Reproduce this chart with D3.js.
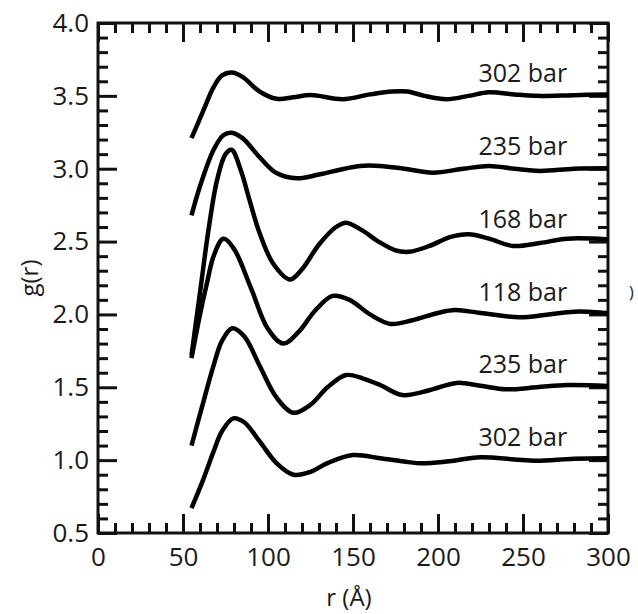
<!DOCTYPE html>
<html><head><meta charset="utf-8">
<script src="https://cdn.jsdelivr.net/npm/d3@7"></script>
<style>
html,body{margin:0;padding:0;background:#fff;}
svg text{font-family:"Open Sans","Noto Sans",sans-serif;fill:#1a1a1a;}
</style></head>
<body><svg id="chart" width="638" height="614"></svg>
<script>
// ---- data ----
const xTicks = [0, 50, 100, 150, 200, 250, 300];
const yTicks = [0.5, 1.0, 1.5, 2.0, 2.5, 3.0, 3.5, 4.0];
const seriesLabels = ["302 bar", "235 bar", "168 bar", "118 bar", "235 bar", "302 bar"];
const seriesOffsets = [3.5, 3.0, 2.5, 2.0, 1.5, 1.0];

const r_302_top = [55, 62, 68, 73, 78.6, 85, 95, 105, 115, 125, 144, 160, 173, 182, 192, 205, 218, 230, 245, 258, 280, 300];
const g_302_top = [3.21, 3.40, 3.56, 3.64, 3.66, 3.63, 3.53, 3.48, 3.49, 3.506, 3.477, 3.51, 3.53, 3.53, 3.50, 3.477, 3.50, 3.525, 3.51, 3.50, 3.505, 3.51];

const r_235_top = [55, 60, 68, 73.7, 78.6, 85, 95, 105, 117, 130, 145, 154, 166, 180, 197, 215, 230, 245, 260, 280, 300];
const g_235_top = [2.68, 2.88, 3.13, 3.23, 3.247, 3.21, 3.08, 2.97, 2.934, 2.96, 3.00, 3.019, 3.019, 3.00, 2.973, 3.00, 3.019, 3.00, 2.985, 3.0, 3.003];

const r_168 = [55, 60, 65, 70, 75, 78.6, 84, 89, 95, 103, 113, 120, 130, 140, 146, 155, 165, 175, 183, 195, 207, 218, 230, 244, 260, 276, 300];
const g_168 = [1.72, 2.15, 2.58, 2.92, 3.10, 3.13, 2.99, 2.79, 2.56, 2.35, 2.24, 2.31, 2.48, 2.60, 2.63, 2.58, 2.50, 2.44, 2.43, 2.47, 2.53, 2.55, 2.52, 2.47, 2.49, 2.52, 2.515];

const r_118 = [55, 60, 64, 68, 73.7, 80, 90, 100, 109, 118, 128, 138, 148, 160, 172, 185, 200, 210, 225, 248, 265, 283, 300];
const g_118 = [1.70, 2.00, 2.21, 2.40, 2.52, 2.45, 2.18, 1.90, 1.80, 1.88, 2.03, 2.127, 2.10, 2.00, 1.935, 1.96, 2.01, 2.03, 2.01, 1.98, 2.00, 2.02, 2.008];

const r_235_bot = [55, 62, 68, 73, 79, 86, 95, 105, 115, 125, 135, 146, 156, 166, 179, 195, 211, 225, 240, 258, 276, 300];
const g_235_bot = [1.10, 1.40, 1.65, 1.82, 1.905, 1.85, 1.65, 1.43, 1.325, 1.38, 1.50, 1.584, 1.56, 1.516, 1.447, 1.48, 1.53, 1.51, 1.486, 1.50, 1.516, 1.509];

const r_302_bot = [55, 62, 68, 73, 79.6, 86, 95, 105, 115, 125, 135, 150, 166, 180, 191, 205, 225, 245, 258, 280, 300];
const g_302_bot = [0.67, 0.87, 1.06, 1.20, 1.287, 1.26, 1.13, 0.98, 0.90, 0.92, 0.98, 1.035, 1.013, 0.99, 0.978, 0.99, 1.02, 1.005, 0.996, 1.01, 1.013];

const seriesR = [r_302_top, r_235_top, r_168, r_118, r_235_bot, r_302_bot];
const seriesG = [g_302_top, g_235_top, g_168, g_118, g_235_bot, g_302_bot];

// ---- layout ----
const L = 98, R = 608, T = 23, B = 533;
const svg = d3.select("#chart");
const x = d3.scaleLinear().domain([0, 300]).range([L, R]);
const y = d3.scaleLinear().domain([0.5, 4.0]).range([B, T]);

const xMinor = d3.range(0, 301, 10).filter(v => v % 50 !== 0);
const yMinor = d3.range(5, 41, 1).map(v => v / 10).filter(v => Math.round(v * 10) % 5 !== 0);

function styleAxis(g) {
  g.select(".domain").remove();
  g.selectAll(".tick line").attr("stroke", "#111").attr("stroke-width", 3);
  g.selectAll(".tick text").attr("font-size", 26).attr("fill", "#1a1a1a")
    .attr("font-family", '"Open Sans","Noto Sans",sans-serif');
}

// bottom
svg.append("g").attr("transform", `translate(0,${B})`)
  .call(d3.axisBottom(x).tickValues(xTicks).tickSize(-19).tickPadding(15).tickFormat(d3.format("d")))
  .call(styleAxis);
svg.append("g").attr("transform", `translate(0,${B})`)
  .call(d3.axisBottom(x).tickValues(xMinor).tickSize(-10).tickFormat(""))
  .call(styleAxis);
// top
svg.append("g").attr("transform", `translate(0,${T})`)
  .call(d3.axisTop(x).tickValues(xTicks).tickSize(-19).tickFormat(""))
  .call(styleAxis);
svg.append("g").attr("transform", `translate(0,${T})`)
  .call(d3.axisTop(x).tickValues(xMinor).tickSize(-10).tickFormat(""))
  .call(styleAxis);
// left
svg.append("g").attr("transform", `translate(${L},0)`)
  .call(d3.axisLeft(y).tickValues(yTicks).tickSize(-19).tickPadding(9).tickFormat(d3.format(".1f")))
  .call(styleAxis);
svg.append("g").attr("transform", `translate(${L},0)`)
  .call(d3.axisLeft(y).tickValues(yMinor).tickSize(-10).tickFormat(""))
  .call(styleAxis);
// right
svg.append("g").attr("transform", `translate(${R},0)`)
  .call(d3.axisRight(y).tickValues(yTicks).tickSize(-19).tickFormat(""))
  .call(styleAxis);
svg.append("g").attr("transform", `translate(${R},0)`)
  .call(d3.axisRight(y).tickValues(yMinor).tickSize(-10).tickFormat(""))
  .call(styleAxis);

// frame
svg.append("rect").attr("x", L).attr("y", T).attr("width", R - L).attr("height", B - T)
  .attr("fill", "none").attr("stroke", "#111").attr("stroke-width", 3);

// curves
const line = d3.line().x(d => x(d[0])).y(d => y(d[1])).curve(d3.curveCatmullRom.alpha(0.5));
seriesR.forEach((rs, i) => {
  const pts = rs.map((r, j) => [r, seriesG[i][j]]);
  svg.append("path").attr("d", line(pts)).attr("fill", "none")
    .attr("stroke", "#000").attr("stroke-width", 4.5)
    .attr("stroke-linejoin", "round").attr("stroke-linecap", "butt");
});

// series labels
seriesLabels.forEach((lab, i) => {
  svg.append("text").attr("x", x(276)).attr("y", y(seriesOffsets[i] + 0.095))
    .attr("text-anchor", "end").attr("font-size", 25).text(lab);
});

// axis titles
svg.append("text").attr("x", x(150) - 4).attr("y", 606).attr("text-anchor", "middle")
  .attr("font-size", 24).text("r (Å)");
svg.append("text").attr("transform", `translate(38,${y(2.25)}) rotate(-90)`)
  .attr("text-anchor", "middle").attr("font-size", 24).text("g(r)");

// cut-off glyph at the right edge of the original image
svg.append("text").attr("x", 629).attr("y", 298).attr("font-size", 16).attr("fill", "#555").text(")");
</script></body></html>
